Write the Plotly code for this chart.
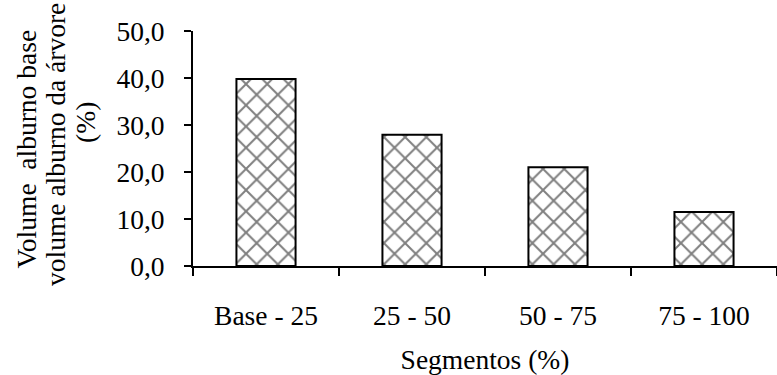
import plotly.graph_objects as go

categories = ["Base - 25", "25 - 50", "50 - 75", "75 - 100"]
values = [39.8, 27.9, 21.0, 11.5]
ytick_vals = [0, 10, 20, 30, 40, 50]
ytick_text = ["0,0", "10,0", "20,0", "30,0", "40,0", "50,0"]

FONT = "Liberation Serif"
FS = 27.5

fig = go.Figure()
fig.add_trace(go.Bar(
    x=categories,
    y=values,
    width=0.405,
    marker=dict(
        color="white",
        line=dict(color="black", width=2),
        pattern=dict(shape="x", fgcolor="#000000", bgcolor="white", size=15, solidity=0.25),
    ),
))

fig.update_layout(
    width=777, height=375,
    margin=dict(l=193, r=0, t=31, b=109),
    paper_bgcolor="white", plot_bgcolor="white",
    font=dict(family=FONT, size=FS, color="black"),
    showlegend=False,
    xaxis=dict(
        type="category",
        range=[-0.5, 3.5],
        showline=True, linecolor="black", linewidth=2,
        ticks="outside", ticklen=8, tickwidth=2, tickcolor="black",
        tickson="boundaries",
        showgrid=False, zeroline=False,
        tickfont=dict(family=FONT, size=FS),
        ticklabelstandoff=24,
        title=dict(text="Segmentos (%)", font=dict(family=FONT, size=FS), standoff=24),
    ),
    yaxis=dict(
        range=[0, 50],
        tickvals=ytick_vals, ticktext=ytick_text,
        showline=True, linecolor="black", linewidth=2,
        ticks="outside", ticklen=7, tickwidth=2, tickcolor="black",
        showgrid=False, zeroline=False,
        tickfont=dict(family=FONT, size=FS),
        ticklabelstandoff=14,
    ),
)

ylabel_lines = [
    ("Volume\u00a0 alburno base", -167, 0.496),
    ("volume alburno da árvore", -137, 0.515),
    ("(%)", -107, 0.609),
]
for txt, xs, yy in ylabel_lines:
    fig.add_annotation(
        text=txt, xref="paper", yref="paper", x=0, y=yy,
        xshift=xs, textangle=-90, showarrow=False,
        font=dict(family=FONT, size=FS, color="black"),
        xanchor="center", yanchor="middle",
    )

fig.write_html("out.html")
